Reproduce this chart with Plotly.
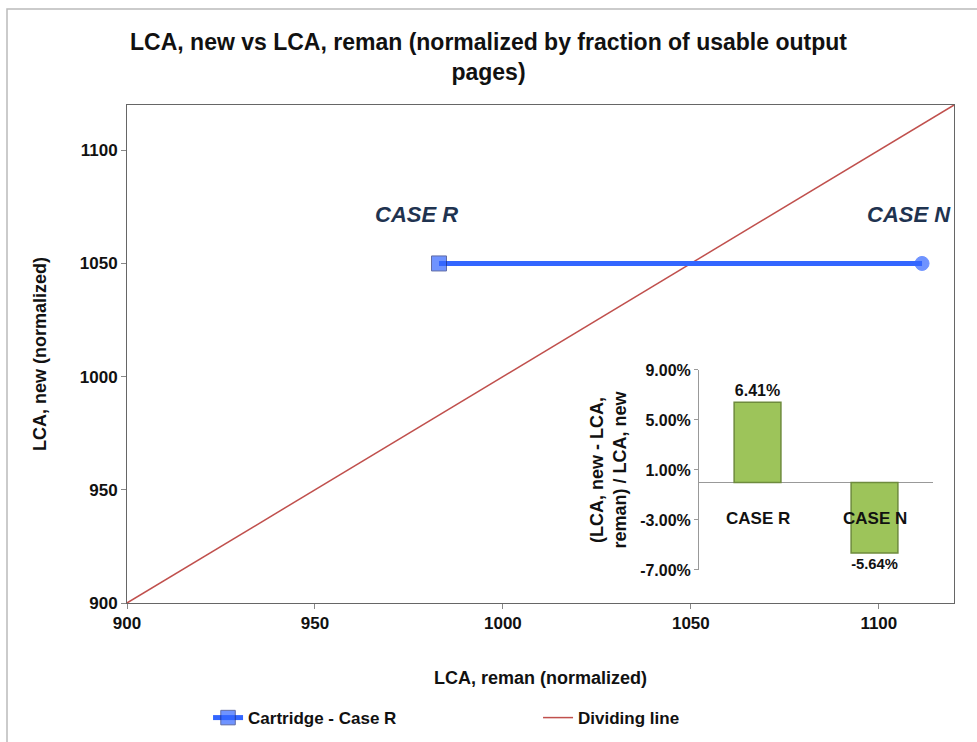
import plotly.graph_objects as go

# ---- data ----
cart_x = [983, 1111.5]        # LCA, reman (normalized)
cart_y = [1050, 1050]         # LCA, new (normalized)
div_x = [900, 1120]
div_y = [900, 1120]
case_labels = ["CASE R", "CASE N"]
bar_vals = [0.0641, -0.0564]
bar_text = ["6.41%", "-5.64%"]
main_ticks = [900, 950, 1000, 1050, 1100]
inset_ticks = [-0.07, -0.03, 0.01, 0.05, 0.09]
inset_ticktext = ["-7.00%", "-3.00%", "1.00%", "5.00%", "9.00%"]

FONT = "Liberation Sans Narrow, Arial Narrow, Liberation Sans, sans-serif"
NAVY = "#1F3350"

fig = go.Figure()

fig.add_trace(go.Scatter(
    x=div_x, y=div_y, mode="lines", name="Dividing line",
    line=dict(color="#C0504D", width=1.5), xaxis="x", yaxis="y"))

fig.add_trace(go.Scatter(
    x=cart_x, y=cart_y, mode="lines+markers", name="Cartridge - Case R",
    line=dict(color="#3366FF", width=5),
    marker=dict(symbol=["square", "circle"], size=[15, 14], color="#3366FF",
                line=dict(color=["#1F2F80", "#3366FF"], width=1)),
    xaxis="x", yaxis="y"))

fig.add_trace(go.Bar(
    x=case_labels, y=bar_vals, width=0.4, showlegend=False,
    marker=dict(color="#9DC45A", line=dict(color="#6E8B3D", width=1.5)),
    text=bar_text, textposition="outside", cliponaxis=False,
    textfont=dict(family=FONT, size=16, color="#111", weight="bold"),
    xaxis="x2", yaxis="y2"))

# case labels for the main chart
fig.add_annotation(x=cart_x[0], y=1071.5, text="<i><b>CASE R</b></i>", showarrow=False,
                   xref="x", yref="y", font=dict(family=FONT, size=22, color=NAVY), xshift=-23)
fig.add_annotation(x=cart_x[1], y=1071.5, text="<i><b>CASE N</b></i>", showarrow=False,
                   xref="x", yref="y", font=dict(family=FONT, size=22, color=NAVY), xshift=-13)

# inset category labels
for c in case_labels:
    fig.add_annotation(x=c, y=-0.029, text="<b>" + c + "</b>", showarrow=False,
                       xref="x2", yref="y2", font=dict(family=FONT, size=17, color="#111"))

fig.update_layout(
    width=977, height=742,
    paper_bgcolor="white", plot_bgcolor="white",
    margin=dict(l=127, r=23, t=105, b=139, autoexpand=False),
    font=dict(family=FONT, color="#111"),
    title=dict(text="<b>LCA, new vs LCA, reman (normalized by fraction of usable output<br>pages)</b>",
               x=0.5, xanchor="center", y=0.932, yanchor="top",
               font=dict(family=FONT, size=23, color="#111")),
    xaxis=dict(range=[900, 1120], tickvals=main_ticks, showgrid=False, zeroline=False,
               showline=True, linecolor="#666", linewidth=1, mirror=True,
               ticks="outside", ticklen=5, tickcolor="#888",
               tickfont=dict(family=FONT, size=17, weight="bold"),
               title=dict(text="<b>LCA, reman (normalized)</b>", font=dict(family=FONT, size=18), standoff=38)),
    yaxis=dict(range=[900, 1120], tickvals=main_ticks, showgrid=False, zeroline=False,
               showline=True, linecolor="#666", linewidth=1, mirror=True,
               ticks="outside", ticklen=5, tickcolor="#888",
               tickfont=dict(family=FONT, size=17, weight="bold"),
               title=dict(text="<b>LCA, new (normalized)</b>", font=dict(family=FONT, size=18), standoff=28)),
    xaxis2=dict(domain=[0.6917, 0.9746], anchor="y2", showgrid=False, zeroline=False,
                showline=False, showticklabels=False, ticks=""),
    yaxis2=dict(domain=[0.0663, 0.4679], anchor="x2", range=[-0.07, 0.09],
                tickvals=inset_ticks, ticktext=inset_ticktext, showgrid=False,
                zeroline=True, zerolinecolor="#999", zerolinewidth=1,
                showline=True, linecolor="#999", linewidth=1, ticks="outside", ticklen=4,
                tickcolor="#999", tickfont=dict(family=FONT, size=16, weight="bold"),
                title=dict(text="<b>(LCA, new - LCA,<br>reman) / LCA, new</b>",
                           font=dict(family=FONT, size=18), standoff=8)),
    legend=dict(orientation="h", x=0.098, xanchor="left", y=-0.231, yanchor="middle",
                font=dict(family=FONT, size=17, weight="bold"), itemwidth=30,
                traceorder="reversed", entrywidthmode="pixels", entrywidth=285),
    shapes=[dict(type="rect", xref="paper", yref="paper", x0=(7 - 127) / 827, x1=1.5,
                 y0=-1.0, y1=(603 - 9) / 498,
                 line=dict(color="#BBBBBB", width=1.5), layer="below")],
)

fig.write_html("out.html", config={"displayModeBar": False},
               post_script="document.body.style.margin='0';")
